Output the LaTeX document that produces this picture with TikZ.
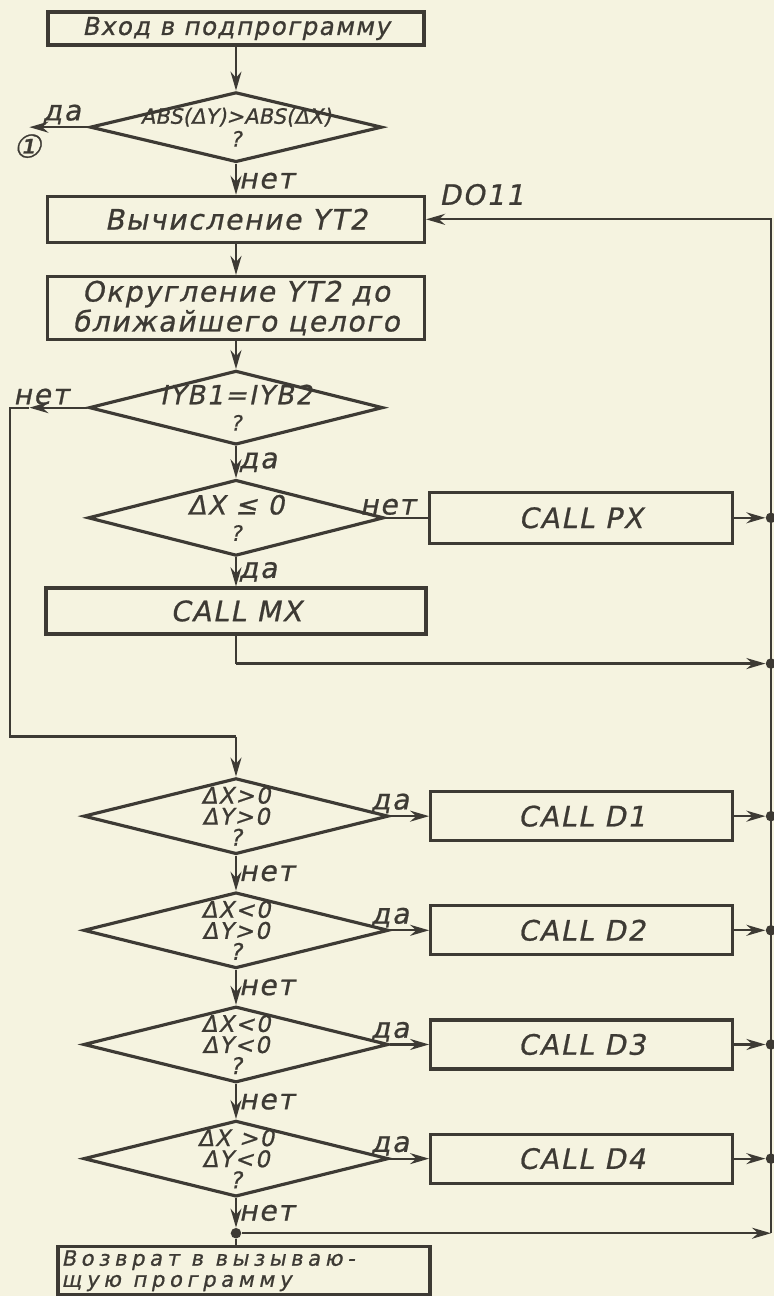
\documentclass[tikz,border=0pt]{standalone}
\usepackage{fontspec}
\setmainfont{DejaVu Sans}
\newfontfamily\gost{DejaVu Sans}[FakeSlant=0.2,FakeBold=0.8,LetterSpace=6]
\newfontfamily\gostwide{DejaVu Sans}[FakeSlant=0.2,FakeBold=0.8,LetterSpace=22]
\usepackage{tikz}
\usetikzlibrary{arrows.meta,positioning,shapes.geometric}
\definecolor{Paper}{HTML}{F5F3E0}
\definecolor{Ink}{HTML}{3D3A34}
\newcommand{\zw}[1]{\makebox[0pt]{#1}}
\newcommand{\gap}{\hspace{0.55em}}

\begin{document}
\begin{tikzpicture}[
        box/.style={draw=Ink,line width=1.8pt,text=Ink,align=center,
                    minimum height=0.92cm,inner sep=2pt,
                    font=\gost\fontsize{16}{17}\selectfont},
        test/.style={diamond,draw=Ink,line width=1.8pt,text=Ink,align=center,
                     minimum width=6.1cm,minimum height=1.52cm,inner sep=0pt,
                     font=\gost\fontsize{13}{12}\selectfont},
        lbl/.style={text=Ink,inner sep=1pt,font=\gost\fontsize{16}{16}\selectfont},
        line/.style={draw=Ink,line width=1.3pt},
        arr/.style={line,-{Stealth[length=3.8mm,width=2.2mm]}},
        dot/.style={circle,fill=Ink,inner sep=0pt,minimum size=6pt}]
        \path[use as bounding box,fill=Paper] (0,0) rectangle (15.48,-25.92);
        \coordinate (bus) at (15.42,0);
        \coordinate (lft) at (0.2,0);
        % main column
        \node[box,minimum width=7.52cm,minimum height=0.66cm,
              font=\gost\fontsize{14}{15}\selectfont] (entry) at (4.72,-0.57)
          {Вход в подпрограмму};
        \node[test,minimum width=5.84cm,minimum height=1.4cm,
              font=\gost\fontsize{12}{13}\selectfont\addfontfeatures{LetterSpace=0},
              below=0.88cm of entry] (dabs)
          {\zw{ABS(ΔY)>ABS(ΔX)}\\\zw{?}};
        \node[box,minimum width=7.54cm,below=0.62cm of dabs] (yt2)
          {Вычисление YT2};
        \node[box,minimum width=7.54cm,minimum height=1.26cm,below=0.62cm of yt2] (rnd)
          {Округление YT2 до\\ближайшего целого};
        \node[test,minimum width=5.88cm,minimum height=1.48cm,
              font=\gost\fontsize{15}{15}\selectfont,below=0.56cm of rnd] (diyb)
          {\zw{IYB1=IYB2}\\\zw{\fontsize{12}{12}\selectfont ?}};
        \node[test,minimum width=5.92cm,
              font=\gost\fontsize{15}{15}\selectfont,below=0.64cm of diyb] (dx)
          {\zw{ΔX ≤ 0}\\\zw{\fontsize{12}{12}\selectfont ?}};
        \node[box,minimum width=6.06cm,minimum height=1.02cm,right=0.84cm of dx] (px)
          {CALL PX};
        \node[box,minimum width=7.6cm,below=0.58cm of dx] (mx) {CALL MX};
        \node[test,below=2.82cm of mx] (d1) {\zw{ΔX>0}\\\zw{ΔY>0}\\\zw{?}};
        \node[test,below=0.7cm of d1] (d2) {\zw{ΔX<0}\\\zw{ΔY>0}\\\zw{?}};
        \node[test,below=0.7cm of d2] (d3) {\zw{ΔX<0}\\\zw{ΔY<0}\\\zw{?}};
        \node[test,below=0.7cm of d3] (d4) {\zw{ΔX >0}\\\zw{ΔY<0}\\\zw{?}};
        \node[box,minimum width=6.04cm,minimum height=0.98cm,right=0.78cm of d1] (c1) {CALL D1};
        \node[box,minimum width=6.04cm,minimum height=0.98cm,right=0.78cm of d2] (c2) {CALL D2};
        \node[box,minimum width=6.04cm,minimum height=0.98cm,right=0.78cm of d3] (c3) {CALL D3};
        \node[box,minimum width=6.04cm,minimum height=0.98cm,right=0.78cm of d4] (c4) {CALL D4};
        \coordinate[below=0.7cm of d4] (jn);
        \node[box,text width=7.3cm,minimum height=0.9cm,align=left,inner sep=2pt,
              font=\gostwide\fontsize{12}{12}\selectfont,
              below=0.24cm of jn,xshift=0.16cm] (ret)
          {Возврат\gap в\gap вызываю-\\щую\gap программу};
        % helper points
        \coordinate[left=1.18cm of dabs.west] (one);
        \coordinate[left=1.16cm of diyb.west] (k0);
        \coordinate (k1) at (lft |- diyb);
        \coordinate[above=0.8cm of d1] (k3);
        \coordinate (k2) at (lft |- k3);
        \coordinate[below=0.56cm of mx] (k4);
        \node[dot] (bpx) at (bus |- px) {};
        \node[dot] (bmx) at (bus |- k4) {};
        \node[dot] (b1) at (bus |- c1) {};
        \node[dot] (b2) at (bus |- c2) {};
        \node[dot] (b3) at (bus |- c3) {};
        \node[dot] (b4) at (bus |- c4) {};
        \node[dot] (jdot) at (jn) {};
        % connectors
        \draw[arr] (entry) -- (dabs);
        \draw[arr] (dabs.west) -- (one) node[lbl,above,pos=0.45] {да};
        \node[lbl,below=0.1cm of one,xshift=-0.04cm] (n1) {\fontsize{18}{18}\selectfont ①};
        \draw[arr] (dabs) -- (yt2) node[lbl,right,pos=0.55] {нет};
        \draw[arr] (yt2) -- (rnd);
        \draw[arr] (rnd) -- (diyb);
        \draw[arr] (diyb.west) -- (k0) node[lbl,above,pos=0.8] {нет};
        \draw[line] (k0) -- (k1) -- (k2) -- (k3);
        \draw[arr] (k3) -- (d1);
        \draw[arr] (diyb) -- (dx) node[lbl,right,pos=0.5] {да};
        \draw[line] (dx) -- (px) node[lbl,above,pos=0.05] {нет};
        \draw[arr] (dx) -- (mx) node[lbl,right,pos=0.5] {да};
        \draw[arr] (px) -- (bpx);
        \draw[line] (mx) -- (k4);
        \draw[arr] (k4) -- (bmx);
        \draw[arr] (d1) -- (c1) node[lbl,above,pos=0.0] {да};
        \draw[arr] (d2) -- (c2) node[lbl,above,pos=0.0] {да};
        \draw[arr] (d3) -- (c3) node[lbl,above,pos=0.0] {да};
        \draw[arr] (d4) -- (c4) node[lbl,above,pos=0.0] {да};
        \draw[arr] (d1) -- (d2) node[lbl,right,pos=0.5] {нет};
        \draw[arr] (d2) -- (d3) node[lbl,right,pos=0.5] {нет};
        \draw[arr] (d3) -- (d4) node[lbl,right,pos=0.5] {нет};
        \draw[arr] (d4) -- (jdot) node[lbl,right,pos=0.5] {нет};
        \draw[line] (jdot) -- (jdot |- ret.north);
        \draw[arr] (jdot) -- (bus |- jn);
        \draw[arr] (c1) -- (b1);
        \draw[arr] (c2) -- (b2);
        \draw[arr] (c3) -- (b3);
        \draw[arr] (c4) -- (b4);
        % return line up to DO11
        \draw[arr] (bus |- jn) -- (bus |- yt2) -- (yt2);
        \node[lbl,above right=0.24cm and 0.22cm of yt2.east] (do) {DO11};
\end{tikzpicture}
\end{document}
